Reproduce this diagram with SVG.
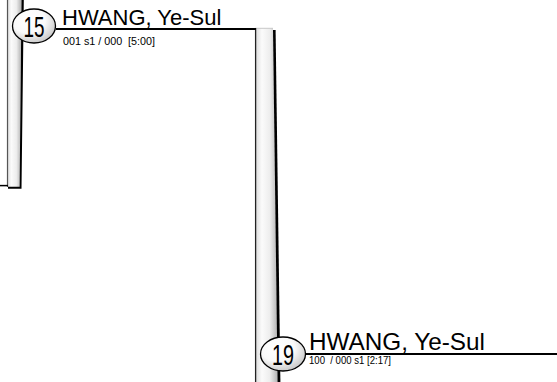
<svg xmlns="http://www.w3.org/2000/svg" width="557" height="382" viewBox="0 0 557 382">
<defs>
<linearGradient id="bar" x1="0" y1="0" x2="1" y2="0">
<stop offset="0" stop-color="#d8d8d8"/>
<stop offset="0.3" stop-color="#fbfbfb"/>
<stop offset="0.65" stop-color="#ededed"/>
<stop offset="1" stop-color="#b0b0b0"/>
</linearGradient>
<radialGradient id="ball" cx="0.4" cy="0.35" r="0.7" fx="0.35" fy="0.3">
<stop offset="0" stop-color="#ffffff"/>
<stop offset="0.55" stop-color="#fafafa"/>
<stop offset="1" stop-color="#c4c4c4"/>
</radialGradient>
<style>
.name{font-family:"Liberation Sans",Arial,sans-serif;fill:#000}
.sub{font-family:"Liberation Sans",Arial,sans-serif;font-size:10px;fill:#000;white-space:pre}
.num{font-family:"Liberation Sans",Arial,sans-serif;font-size:30px;fill:#000;text-anchor:middle}
.ball{fill:url(#ball);stroke:#000;stroke-width:1.3}
.line{stroke:#000;stroke-width:2;fill:none}
.edge{stroke:#555;stroke-width:1.2;fill:none}
.shadow{fill:#000}
</style>
</defs>
<g id="connectors">
<polygon points="7,0 21.5,0 19.5,187 7,187" fill="url(#bar)"/>
<line class="edge" x1="7.5" y1="0" x2="7.5" y2="187"/>
<polygon class="shadow" points="21.5,0 23.8,0 21.5,188.8 8,188.8 8,186.8 19.6,186.8"/>
<line x1="0" y1="185.6" x2="8" y2="185.6" stroke="#000" stroke-width="1.5"/>
<polygon points="255,28 273,28 278,382 255,382" fill="url(#bar)"/>
<line x1="255" y1="28.3" x2="273" y2="28.3" stroke="#c8c8c8" stroke-width="1"/>
<line x1="255.6" y1="28" x2="255.6" y2="382" stroke="#222" stroke-width="1.3"/>
<polygon class="shadow" points="273,30 275.6,30 280.4,382 277.6,382"/>
<line class="line" x1="56" y1="29" x2="256" y2="29"/>
<line class="line" x1="304" y1="354" x2="557" y2="354" stroke-width="2.4"/>
</g>
<g id="node-15">
<ellipse class="ball" cx="34" cy="26" rx="21.5" ry="17"/>
<text class="num" x="34" y="37" textLength="21" lengthAdjust="spacingAndGlyphs">15</text>
<text class="name" x="62" y="25" font-size="22">HWANG, Ye-Sul</text>
<text class="sub" x="63" y="45" textLength="92" lengthAdjust="spacingAndGlyphs">001 s1 / 000  [5:00]</text>
</g>
<g id="node-19">
<ellipse class="ball" cx="283" cy="354" rx="22.5" ry="17"/>
<text class="num" x="283" y="365" textLength="22" lengthAdjust="spacingAndGlyphs">19</text>
<text class="name" x="309" y="350" font-size="24.3">HWANG, Ye-Sul</text>
<text class="sub" x="309" y="364" textLength="82" lengthAdjust="spacingAndGlyphs">100  / 000 s1 [2:17]</text>
</g>
</svg>
